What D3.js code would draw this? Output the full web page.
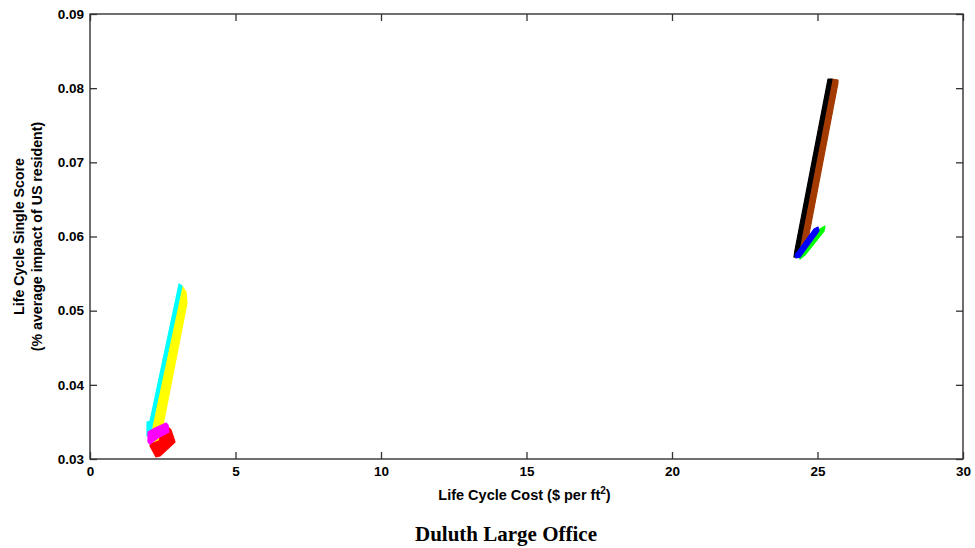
<!DOCTYPE html>
<html><head><meta charset="utf-8">
<script src="https://cdn.jsdelivr.net/npm/d3@7"></script>
<style>body{margin:0;background:#fff}</style>
</head><body>
<svg id="c" width="975" height="548"></svg>
<script>
// Series outlines (Life Cycle Cost, Life Cycle Single Score)
const seriesNames = ["red","yellow","cyan","magenta","brown","black","green","blue"];
const seriesColors = ["#ff0000","#ffff00","#00ffff","#ff00ff","#a33a00","#000000","#00ff00","#0000ff"];
const costRed = [2.131,2.680,2.784,2.921,2.405,2.268,2.062];
const scoreRed = [0.03297,0.03431,0.03391,0.03229,0.0304,0.03027,0.03175];
const costYellow = [3.162,3.299,3.333,2.509,2.337,2.165,2.131];
const scoreYellow = [0.05333,0.05252,0.05103,0.03458,0.03256,0.03229,0.03418];
const costCyan = [3.058,3.162,2.131,2.096,1.959,1.959,2.062];
const scoreCyan = [0.05359,0.05333,0.03445,0.03283,0.0331,0.03499,0.03512];
const costMagenta = [1.993,2.234,2.612,2.680,2.715,2.337,2.062,1.993];
const scoreMagenta = [0.03364,0.03418,0.03485,0.03458,0.03364,0.03283,0.03202,0.03229];
const costBrown = [25.498,25.704,25.704,24.605,24.399,24.296];
const scoreBrown = [0.08123,0.0811,0.0807,0.05818,0.0571,0.05723];
const costBlack = [25.361,25.498,24.364,24.296,24.192,24.227];
const scoreBlack = [0.08123,0.08123,0.05818,0.05723,0.05723,0.05818];
const costGreen = [24.364,25.086,25.258,25.223,24.570,24.399];
const scoreGreen = [0.05764,0.06101,0.06141,0.06074,0.0575,0.05696];
const costBlue = [24.227,24.880,25.017,25.052,24.399,24.261];
const scoreBlue = [0.0575,0.06101,0.06128,0.06074,0.05723,0.0571];
const xTicks = [0,5,10,15,20,25,30];
const yTicks = [0.03,0.04,0.05,0.06,0.07,0.08,0.09];

const costs = [costRed,costYellow,costCyan,costMagenta,costBrown,costBlack,costGreen,costBlue];
const scores = [scoreRed,scoreYellow,scoreCyan,scoreMagenta,scoreBrown,scoreBlack,scoreGreen,scoreBlue];

const svg = d3.select("#c");
const L=90, R=963, T=14, B=459;
const x = d3.scaleLinear().domain([0,30]).range([L,R]);
const y = d3.scaleLinear().domain([0.03,0.09]).range([B,T]);
const axCol = "#333";

const line = d3.line().x(d=>x(d[0])).y(d=>y(d[1])).curve(d3.curveLinearClosed);
const g = svg.append("g");
seriesNames.forEach((n,i)=>{
  const pts = costs[i].map((c,j)=>[c,scores[i][j]]);
  g.append("path").attr("d",line(pts)).attr("fill",seriesColors[i])
   .attr("stroke",seriesColors[i]).attr("stroke-width",1.2).attr("stroke-linejoin","round");
});

const font = "Liberation Sans, Arial, Helvetica, sans-serif";
const fmtY = d3.format(".2f");
const ax = svg.append("g").attr("font-family",font).attr("font-weight","bold").attr("font-size",13);
// bottom axis
ax.append("g").attr("transform",`translate(0,${B})`)
  .call(d3.axisBottom(x).tickValues(xTicks).tickSize(-7).tickPadding(6).tickFormat(d3.format("d")))
  .call(s=>{s.select(".domain").remove(); s.selectAll("line").attr("stroke",axCol).attr("stroke-width",1.3);
            s.selectAll("text").attr("fill","#000").attr("dy","0.85em").attr("font-size",13.5).attr("font-family",font);});
// left axis
ax.append("g").attr("transform",`translate(${L},0)`)
  .call(d3.axisLeft(y).tickValues(yTicks).tickSize(-7).tickPadding(6).tickFormat(fmtY))
  .call(s=>{s.select(".domain").remove(); s.selectAll("line").attr("stroke",axCol).attr("stroke-width",1.3);
            s.selectAll("text").attr("fill","#000").attr("font-size",13.5).attr("font-family",font);});
// top ticks
ax.append("g").attr("transform",`translate(0,${T})`)
  .call(d3.axisTop(x).tickValues(xTicks).tickSize(-7).tickFormat(""))
  .call(s=>{s.select(".domain").remove(); s.selectAll("line").attr("stroke",axCol).attr("stroke-width",1.3);});
// right ticks
ax.append("g").attr("transform",`translate(${R},0)`)
  .call(d3.axisRight(y).tickValues(yTicks).tickSize(-7).tickFormat(""))
  .call(s=>{s.select(".domain").remove(); s.selectAll("line").attr("stroke",axCol).attr("stroke-width",1.3);});
// frame
svg.append("rect").attr("x",L).attr("y",T).attr("width",R-L).attr("height",B-T)
  .attr("fill","none").attr("stroke",axCol).attr("stroke-width",1.4);

// axis titles
const xt = svg.append("text").attr("x",(L+R)/2-2).attr("y",500).attr("text-anchor","middle")
  .attr("font-family",font).attr("font-weight","bold").attr("font-size",14.5).attr("fill","#000");
xt.append("tspan").text("Life Cycle Cost ($ per ft");
xt.append("tspan").attr("dy",-6).attr("font-size",10).text("2");
xt.append("tspan").attr("dy",6).text(")");

const yt = svg.append("text").attr("transform",`translate(0,${(T+B)/2}) rotate(-90)`)
  .attr("text-anchor","middle").attr("font-family",font).attr("font-weight","bold").attr("font-size",14.2).attr("fill","#000");
yt.append("tspan").attr("x",0).attr("y",24).text("Life Cycle Single Score");
yt.append("tspan").attr("x",0).attr("y",42).text("(% average impact of US resident)");

svg.append("text").attr("x",506).attr("y",541).attr("text-anchor","middle")
  .attr("font-family","Liberation Serif, Times New Roman, serif").attr("font-weight","bold").attr("font-size",21)
  .attr("fill","#000").text("Duluth Large Office");
</script>
</body></html>
